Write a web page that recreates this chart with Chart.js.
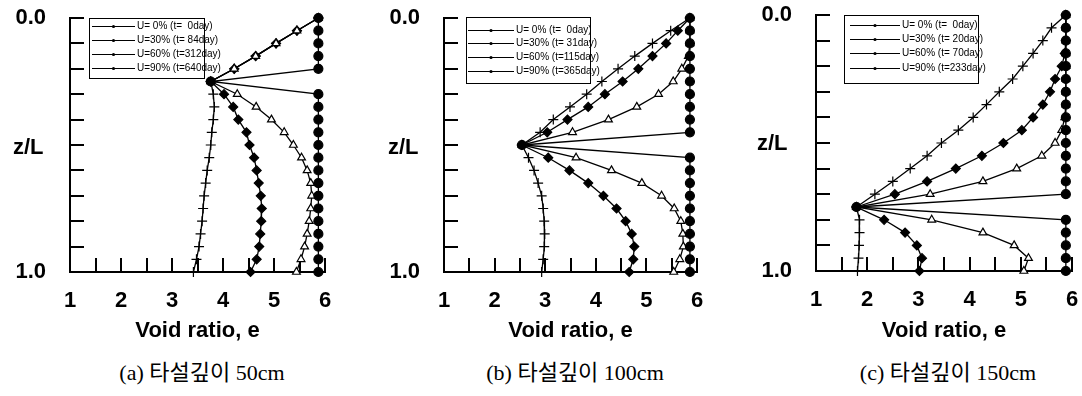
<!DOCTYPE html>
<html>
<head>
<meta charset="utf-8">
<script src="https://cdn.jsdelivr.net/npm/chart.js@4"></script>
<style>
    body { margin: 0; background: #fff; width: 1082px; height: 396px; overflow: hidden; position: relative; }
    canvas { position: absolute; top: 0; }
    .zl { position: absolute; font: bold 22px "Liberation Sans", Arial, sans-serif; line-height: 22px; }
    .cap { position: absolute; top: 360px; width: 360px; text-align: center; font-size: 22px; line-height: 26px;
           font-family: "Liberation Serif", "Noto Sans CJK KR", serif; }
</style>
</head>
<body>
<canvas id="chartA" width="350" height="350" style="left:0px"></canvas>
<canvas id="chartB" width="360" height="350" style="left:360px"></canvas>
<canvas id="chartC" width="362" height="350" style="left:720px"></canvas>
<div class="zl" style="left:13px;top:136px">z/L</div>
<div class="zl" style="left:388px;top:136px">z/L</div>
<div class="zl" style="left:757px;top:132px">z/L</div>
<div class="cap" style="left:22px">(a) 타설깊이 50cm</div>
<div class="cap" style="left:395px">(b) 타설깊이 100cm</div>
<div class="cap" style="left:768px">(c) 타설깊이 150cm</div>
<script>
// depth ratio z/L, shared by every curve
const zL = [0, 0.05, 0.1, 0.15, 0.2, 0.25, 0.3, 0.35, 0.4, 0.45, 0.5,
            0.55, 0.6, 0.65, 0.7, 0.75, 0.8, 0.85, 0.9, 0.95, 1.0];

// (a) 50cm
const eA_U0  = [5.87, 5.87, 5.87, 5.87, 5.87, 3.76, 5.87, 5.87, 5.87, 5.87, 5.87, 5.87, 5.87, 5.87, 5.87, 5.87, 5.87, 5.87, 5.87, 5.87, 5.87];
const eA_U30 = [5.87, 5.45, 5.04, 4.64, 4.22, 3.76, 4.28, 4.65, 4.95, 5.20, 5.38, 5.54, 5.65, 5.72, 5.74, 5.72, 5.69, 5.65, 5.60, 5.53, 5.44];
const eA_U60 = [5.87, 5.45, 5.04, 4.64, 4.22, 3.76, 4.02, 4.20, 4.30, 4.46, 4.52, 4.61, 4.66, 4.70, 4.74, 4.76, 4.75, 4.73, 4.71, 4.66, 4.54];
const eA_U90 = [5.87, 5.45, 5.04, 4.64, 4.22, 3.76, 3.81, 3.83, 3.81, 3.78, 3.76, 3.73, 3.69, 3.66, 3.63, 3.61, 3.59, 3.56, 3.53, 3.48, 3.42];
const legendA = ["U= 0% (t=  0day)", "U=30% (t= 84day)", "U=60% (t=312day)", "U=90% (t=640day)"];

// (b) 100cm
const eB_U0  = [5.86, 5.86, 5.86, 5.86, 5.86, 5.86, 5.86, 5.86, 5.86, 5.86, 2.54, 5.86, 5.86, 5.86, 5.86, 5.86, 5.86, 5.86, 5.86, 5.86, 5.86];
const eB_U30 = [5.86, 5.86, 5.86, 5.83, 5.70, 5.53, 5.24, 4.81, 4.25, 3.54, 2.54, 3.61, 4.31, 4.91, 5.30, 5.55, 5.68, 5.72, 5.73, 5.66, 5.54];
const eB_U60 = [5.86, 5.62, 5.39, 5.12, 4.84, 4.53, 4.18, 3.85, 3.44, 3.04, 2.54, 3.06, 3.48, 3.85, 4.15, 4.41, 4.59, 4.71, 4.76, 4.74, 4.66];
const eB_U90 = [5.86, 5.48, 5.12, 4.77, 4.44, 4.12, 3.82, 3.49, 3.16, 2.90, 2.54, 2.67, 2.78, 2.86, 2.93, 2.96, 2.98, 2.99, 2.98, 2.96, 2.93];
const legendB = ["U= 0% (t=  0day)", "U=30% (t= 31day)", "U=60% (t=115day)", "U=90% (t=365day)"];

// (c) 150cm
const eC_U0  = [5.88, 5.88, 5.88, 5.88, 5.88, 5.88, 5.88, 5.88, 5.88, 5.88, 5.88, 5.88, 5.88, 5.88, 5.88, 1.79, 5.88, 5.88, 5.88, 5.88, 5.88];
const eC_U30 = [5.88, 5.88, 5.88, 5.88, 5.88, 5.88, 5.88, 5.88, 5.86, 5.80, 5.67, 5.41, 4.92, 4.26, 3.23, 1.79, 3.26, 4.26, 4.87, 5.15, 5.06];
const eC_U60 = [5.88, 5.88, 5.88, 5.86, 5.80, 5.67, 5.57, 5.43, 5.24, 5.02, 4.66, 4.24, 3.73, 3.17, 2.54, 1.79, 2.33, 2.74, 2.97, 3.07, 3.02];
const eC_U90 = [5.88, 5.60, 5.43, 5.24, 5.04, 4.84, 4.58, 4.33, 4.07, 3.78, 3.45, 3.17, 2.84, 2.50, 2.15, 1.79, 1.85, 1.85, 1.84, 1.83, 1.81];
const legendC = ["U= 0% (t=  0day)", "U=30% (t= 20day)", "U=60% (t= 70day)", "U=90% (t=233day)"];

const xTicks = [1, 2, 3, 4, 5, 6];
const yTickLabels = { 0: "0.0", 1: "1.0" };

const markerStyles = [
    { pointStyle: "circle", radius: 4.5, fill: "#000" },
    { pointStyle: "triangle", radius: 4.5, fill: "#fff" },
    { pointStyle: "rectRot", radius: 4.5, fill: "#000" },
    { pointStyle: "cross", radius: 5, fill: "#000" }
];

const axisFont = { family: "'Liberation Sans', Arial, sans-serif", size: 22, weight: "bold" };

// ticks drawn inward from the left and bottom axes
const inwardTicks = {
    id: "inwardTicks",
    beforeDatasetsDraw(chart) {
        const ctx = chart.ctx;
        const xs = chart.scales.x, ys = chart.scales.y;
        ctx.save();
        ctx.strokeStyle = "#000";
        ctx.lineWidth = 2;
        ctx.beginPath();
        xs.ticks.forEach(t => {
            const px = Math.round(xs.getPixelForValue(t.value));
            ctx.moveTo(px, ys.bottom);
            ctx.lineTo(px, ys.bottom - 14);
        });
        ys.ticks.forEach(t => {
            const py = Math.round(ys.getPixelForValue(t.value));
            ctx.moveTo(xs.left, py);
            ctx.lineTo(xs.left + 14, py);
        });
        ctx.stroke();
        ctx.restore();
    }
};

// framed legend sitting inside the plot
const boxLegend = {
    id: "boxLegend",
    afterDraw(chart, args, opts) {
        const ctx = chart.ctx;
        ctx.save();
        ctx.fillStyle = "#fff";
        ctx.fillRect(opts.x, opts.y, opts.w, opts.h);
        ctx.strokeStyle = "#000";
        ctx.lineWidth = 1;
        ctx.strokeRect(opts.x + 0.5, opts.y + 0.5, opts.w, opts.h);
        ctx.font = "10px 'Liberation Sans', Arial, sans-serif";
        ctx.textBaseline = "middle";
        chart.data.datasets.forEach((ds, i) => {
            const ry = opts.rows[i] + 0.5;
            ctx.beginPath();
            ctx.moveTo(opts.x0, ry);
            ctx.lineTo(opts.x1, ry);
            ctx.stroke();
            ctx.beginPath();
            ctx.arc((opts.x0 + opts.x1) / 2, ry, 1.6, 0, Math.PI * 2);
            ctx.fillStyle = "#000";
            ctx.fill();
            ctx.fillText(ds.label, opts.x1 + 2, ry);
        });
        ctx.restore();
    }
};

function noLabelPadding(s) {
    s.paddingTop = 0;
    s.paddingBottom = 0;
    s.paddingLeft = 0;
    s.paddingRight = 0;
}

function makeChart(id, series, labels, lay) {
    const datasets = series.map((e, i) => ({
        label: labels[i],
        data: zL.map((z, k) => ({ x: e[k], y: z })),
        showLine: true,
        borderColor: "#000",
        borderWidth: 1.3,
        pointStyle: markerStyles[i].pointStyle,
        pointRadius: markerStyles[i].radius,
        pointBackgroundColor: markerStyles[i].fill,
        pointBorderColor: "#000",
        pointBorderWidth: 1.2,
        tension: 0,
        clip: false
    }));

    return new Chart(document.getElementById(id), {
        type: "scatter",
        data: { datasets },
        options: {
            responsive: false,
            animation: false,
            events: [],
            layout: { padding: { left: 0, right: lay.right, top: lay.top, bottom: 0 } },
            plugins: {
                legend: { display: false },
                tooltip: { enabled: false },
                boxLegend: lay.legend
            },
            scales: {
                x: {
                    type: "linear",
                    min: 1,
                    max: 6,
                    grid: { display: false, drawTicks: false },
                    border: { display: true, color: "#000", width: 2 },
                    afterBuildTicks: s => {
                        s.ticks = [];
                        for (let v = 1; v <= 6.001; v += 0.5) s.ticks.push({ value: v });
                    },
                    ticks: {
                        autoSkip: false,
                        maxRotation: 0,
                        padding: 16,
                        color: "#000",
                        font: axisFont,
                        callback: v => xTicks.includes(v) ? String(v) : ""
                    },
                    title: {
                        display: true,
                        text: "Void ratio, e",
                        color: "#000",
                        font: axisFont,
                        padding: { top: 0, bottom: 6 }
                    },
                    afterFit: s => { s.height = lay.xh; noLabelPadding(s); }
                },
                y: {
                    type: "linear",
                    min: 0,
                    max: 1,
                    reverse: true,
                    grid: { display: false, drawTicks: false },
                    border: { display: true, color: "#000", width: 2 },
                    afterBuildTicks: s => {
                        s.ticks = [];
                        for (let k = 0; k <= 10; k++) s.ticks.push({ value: k / 10 });
                    },
                    ticks: {
                        autoSkip: false,
                        padding: 24,
                        color: "#000",
                        font: axisFont,
                        callback: v => yTickLabels[v] || ""
                    },
                    afterFit: s => { s.width = lay.yw; noLabelPadding(s); }
                }
            }
        },
        plugins: [inwardTicks, boxLegend]
    });
}

makeChart("chartA", [eA_U0, eA_U30, eA_U60, eA_U90], legendA, {
    yw: 70, right: 25, top: 18, xh: 78,
    legend: { x: 89, y: 18, w: 115, h: 60, x0: 92, x1: 135, rows: [26, 40, 54, 68] }
});
makeChart("chartB", [eB_U0, eB_U30, eB_U60, eB_U90], legendB, {
    yw: 84, right: 23, top: 18, xh: 78,
    legend: { x: 106, y: 17, w: 124, h: 66, x0: 108, x1: 154, rows: [30, 43, 57, 71] }
});
makeChart("chartC", [eC_U0, eC_U30, eC_U60, eC_U90], legendC, {
    yw: 96, right: 10, top: 15, xh: 79,
    legend: { x: 124, y: 15, w: 134, h: 68, x0: 130, x1: 180, rows: [25, 39, 53, 68] }
});
</script>
</body>
</html>
